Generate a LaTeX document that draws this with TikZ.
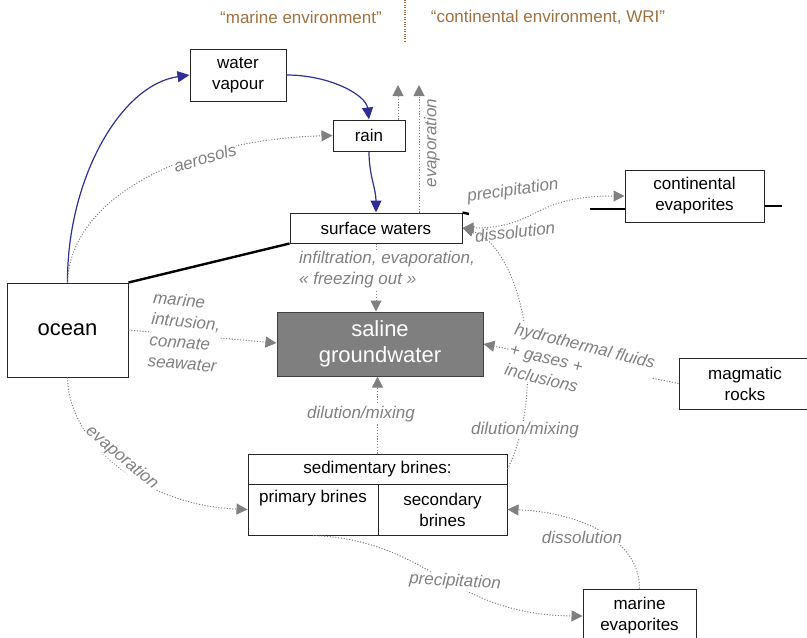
\documentclass[tikz,border=0pt]{standalone}
\usepackage{fontspec}
\setmainfont{Liberation Sans}
\usetikzlibrary{arrows.meta}
\definecolor{envbrown}{RGB}{160,112,64}
\definecolor{wetblue}{RGB}{46,46,150}
\definecolor{flowgray}{RGB}{128,128,128}
\definecolor{salgray}{RGB}{127,127,127}
\tikzset{
  box/.style={draw=black!85, line width=1pt, fill=white, align=center, inner sep=0pt,
    font=\fontsize{17}{21}\selectfont},
  flow/.style={draw=flowgray, line width=1pt, dash pattern=on 1.1pt off 1.7pt,
    -{Triangle[length=11pt,width=11pt]}},
  wet/.style={draw=wetblue, line width=1.2pt, -{Triangle[length=12pt,width=11pt]}},
  land/.style={draw=black, line width=2.4pt},
  lbl/.style={text=flowgray, font=\fontsize{17}{21}\selectfont\itshape, inner sep=1pt},
  lblw/.style={lbl, fill=white},
  env/.style={text=envbrown, font=\fontsize{17}{21}\selectfont},
}
\begin{document}
\begin{tikzpicture}[x=1pt,y=-1pt]
        \useasboundingbox (0,0) rectangle (807,638);
        %%environments
        \node[env] (marenv) at (301,17){“marine environment”};
        \node[env] (conenv) at (548,17){“continental environment, WRI”};
        \coordinate (sepTop) at (405,0);
        \coordinate (sepBot) at (405,42);
        \draw[envbrown, line width=1.1pt, dash pattern=on 1pt off 1.4pt] (sepTop) to (sepBot);

        %%boxes
        \node[box, minimum width=96pt, minimum height=52pt] (vapour) at (238,75){water\\vapour};
        \node[box, minimum width=72pt, minimum height=31pt] (rain) at (369,135.5){rain};
        \node[box, minimum width=172pt, minimum height=30pt] (surf) at (376,228){surface waters};
        \node[box, minimum width=139pt, minimum height=52pt] (contevap) at (694.5,196){continental\\evaporites};
        \node[box, minimum width=121pt, minimum height=94pt, font=\fontsize{22}{26}\selectfont] (ocean) at (67.5,330){ocean};
        \node[box, fill=salgray, draw=black!75, text=white, minimum width=206pt, minimum height=64pt,
              font=\fontsize{22}{26}\selectfont] (saline) at (380,344){saline\\groundwater};
        \node[box, minimum width=132pt, minimum height=51pt] (magma) at (745,383.5){magmatic\\rocks};
        \node[box, minimum width=259pt, minimum height=30pt] (sedtop) at (377.5,469){sedimentary brines:};
        \node[box, minimum width=130pt, minimum height=51pt] (primary) at (313,509.5){primary brines\\\strut};
        \node[box, minimum width=129pt, minimum height=51pt] (secondary) at (442.5,509.5){secondary\\brines};
        \node[box, minimum width=113pt, minimum height=54pt] (marevap) at (639.5,616){marine\\evaporites};

        %%land surface
        \coordinate (landA) at (469,214);
        \coordinate (landB) at (590,209);
        \coordinate (landC) at (782,206);
        \draw[land] (ocean.north east) to (surf.south west);
        \draw[land] (surf.north east) to (landA);
        \draw[land] (landB) to (landB -| contevap.west);
        \draw[land] (landC -| contevap.east) to (landC);

        %%water cycle
        \draw[wet] (ocean.north) .. controls (67,180) and (120,85) .. (vapour.west);
        \draw[wet] (vapour.east) .. controls (330,75) and (366,95) .. (rain.north);
        \draw[wet] (rain.south) to[out=-90, in=90] (surf.north);

        %%evaporation up
        \coordinate (evA) at (398,85);
        \coordinate (evB) at (419,85);
        \draw[flow] (evA |- rain.north) to (evA);
        \draw[flow] (evB |- surf.north) to (evB);
        \node[lbl, rotate=90] (evlbl) at (432,143){evaporation};

        %%aerosols
        \draw[flow] (ocean.north) .. controls (70,200) and (180,140) .. (rain.west);
        \node[lblw, rotate=16] (aerlbl) at (205,158){aerosols};

        %%continental evaporites
        \draw[flow, {Triangle[length=11pt,width=11pt]}-{Triangle[length=11pt,width=11pt]}]
          (surf.east) .. controls (540,228) and (530,196) .. (contevap.west);
        \node[lbl, rotate=8] (preclbl) at (513,191){precipitation};
        \node[lbl, rotate=6] (disslbl) at (515,232){dissolution};

        %%sedimentary brines to surface
        \draw[flow] (sedtop.east) .. controls (522,440) and (530,400) .. (527,350)
          .. controls (524,290) and (500,240) .. (surf.east);

        %%magmatic
        \draw[flow] (magma.west) to (saline.east);
        \node[lblw, rotate=-14, align=left] (hydlbl) at (580,366){hydrothermal fluids\\+ gases +\\inclusions};
        \node[lblw] (mixlblB) at (525,430){dilution/mixing};

        %%infiltration
        \draw[flow] (surf.south) to (surf.south |- saline.north);
        \node[lblw, align=left] (inflbl) at (387,270){infiltration, evaporation,\\« freezing out »};

        %%marine intrusion
        \draw[flow] (ocean.east) to ([yshift=1pt]saline.west);
        \node[lblw, rotate=-5, align=left] (intlbl) at (185,332){marine\\intrusion,\\connate\\seawater};

        %%dilution
        \draw[flow] (sedtop.north) to (sedtop.north |- saline.south);
        \node[lblw] (mixlblA) at (361,414){dilution/mixing};

        %%ocean evaporation
        \draw[flow] (ocean.south) .. controls (68,440) and (140,505) .. (primary.west);
        \node[lblw, rotate=-40] (oevlbl) at (122,458){evaporation};

        %%marine evaporites
        \draw[flow] (primary.south) .. controls (430,540) and (450,615) .. (marevap.west);
        \node[lblw, rotate=-3] (mprelbl) at (455,582){precipitation};
        \draw[flow] (marevap.north) .. controls (640,540) and (580,512) .. (secondary.east);
        \node[lblw] (mdislbl) at (582,537){dissolution};

      \end{tikzpicture}
\end{document}
